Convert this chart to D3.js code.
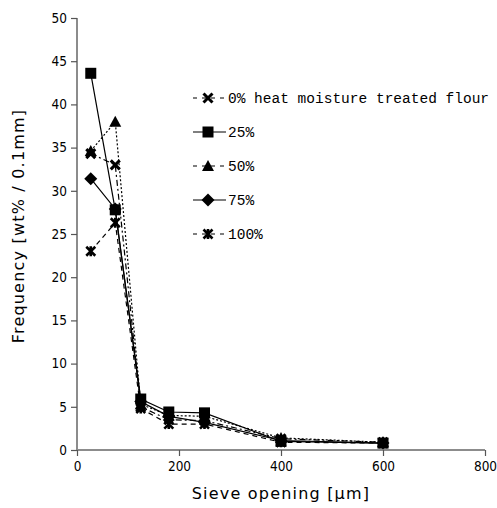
<!DOCTYPE html>
<html>
<head>
<meta charset="utf-8">
<script src="https://cdn.jsdelivr.net/npm/d3@7"></script>
<style>
  body { margin: 0; background: #fff; }
  svg text { fill: #000; }
</style>
</head>
<body>
<div id="chart"></div>
<script>
    /*
    ** Data
    */
    var sieve = [27, 75, 125, 180, 250, 400, 600];
    var seriesNames = ["0% heat moisture treated flour", "25%", "50%", "75%", "100%"];
    var v0   = [34.3, 33.0, 5.0, 3.5, 3.4, 1.3, 0.9];
    var v25  = [43.6, 27.8, 5.9, 4.4, 4.3, 1.0, 0.8];
    var v50  = [34.6, 38.0, 5.3, 4.0, 3.9, 1.4, 0.9];
    var v75  = [31.4, 27.9, 5.6, 3.9, 3.2, 1.1, 0.8];
    var v100 = [23.0, 26.3, 4.8, 3.0, 3.0, 0.9, 0.8];
    var xTicks = [0, 200, 400, 600, 800];
    var yTicks = [0, 5, 10, 15, 20, 25, 30, 35, 40, 45, 50];

    var series = [
        { name: seriesNames[0], values: v0,   dash: "6,3,2,3", marker: "cross" }
      , { name: seriesNames[1], values: v25,  dash: null,      marker: "square" }
      , { name: seriesNames[2], values: v50,  dash: "2,2",     marker: "triangle" }
      , { name: seriesNames[3], values: v75,  dash: null,      marker: "diamond" }
      , { name: seriesNames[4], values: v100, dash: "5,4",     marker: "asterisk" }
    ];

    var width = 497
      , height = 508
      , margin = { left: 77, right: 12, top: 18, bottom: 58 }
      , axisColor = "#8c8c8c"
      , tickFont = "'DejaVu Sans Condensed', 'DejaVu Sans', sans-serif"
      , titleFont = "'DejaVu Sans', sans-serif"
    ;

    var svg = d3.select("#chart").append("svg")
        .attr("width", width)
        .attr("height", height)
    ;

    var x = d3.scaleLinear().domain([0, 800]).range([margin.left, width - margin.right]);
    var y = d3.scaleLinear().domain([0, 50]).range([height - margin.bottom, margin.top]);

    // markers drawn centred on 0,0
    function drawMarker(g, type) {
        if (type === "square") {
            g.append("rect").attr("x", -5.5).attr("y", -5.5).attr("width", 11).attr("height", 11);
        } else if (type === "triangle") {
            g.append("path").attr("d", "M0,-6L6,5L-6,5Z");
        } else if (type === "diamond") {
            g.append("path").attr("d", "M0,-6.5L6.5,0L0,6.5L-6.5,0Z");
        } else if (type === "cross") {
            g.append("path").attr("d", "M-4.5,-4.5L4.5,4.5M4.5,-4.5L-4.5,4.5")
                .attr("stroke", "#000").attr("stroke-width", 3).attr("fill", "none");
        } else if (type === "asterisk") {
            g.append("path").attr("d", "M-4.5,-4.5L4.5,4.5M4.5,-4.5L-4.5,4.5M0,-5L0,5")
                .attr("stroke", "#000").attr("stroke-width", 2.6).attr("fill", "none");
        }
    }

    /*
    ** Axes
    */
    var yAxis = svg.append("g")
        .attr("transform", "translate(" + margin.left + ",0)")
        .call(d3.axisLeft(y).tickValues(yTicks).tickSize(6).tickPadding(4))
    ;
    var xAxis = svg.append("g")
        .attr("transform", "translate(0," + y(0) + ")")
        .call(d3.axisBottom(x).tickValues(xTicks).tickSize(6).tickPadding(5))
    ;
    [xAxis, yAxis].forEach(function(a) {
        a.select(".domain").attr("stroke", axisColor).attr("stroke-width", 2);
        a.selectAll(".tick line").attr("stroke", "#555").attr("stroke-width", 1.2);
        a.selectAll(".tick text")
            .style("font-family", tickFont)
            .style("font-size", "13.5px")
            .attr("fill", "#000")
        ;
    });
    // drop outer tick stubs
    xAxis.select(".domain").attr("d", "M" + x(0) + ",0H" + x(800));
    yAxis.select(".domain").attr("d", "M0," + y(50) + "V" + y(0));

    svg.append("text")
        .attr("transform", "translate(24,226) rotate(-90)")
        .attr("text-anchor", "middle")
        .style("font-family", titleFont)
        .style("font-size", "16px")
        .style("letter-spacing", "1.2px")
        .text("Frequency [wt% / 0.1mm]")
    ;
    svg.append("text")
        .attr("x", x(400))
        .attr("y", 499)
        .attr("text-anchor", "middle")
        .style("font-family", titleFont)
        .style("font-size", "16px")
        .style("letter-spacing", "1.2px")
        .text("Sieve opening [\u03bcm]")
    ;

    /*
    ** Lines and markers
    */
    var line = d3.line()
        .x(function(d, i) { return x(sieve[i]); })
        .y(function(d) { return y(d); })
    ;

    var s = svg.selectAll("g.series").data(series)
        .enter().append("g")
          .attr("class", "series")
    ;
    s.append("path")
        .attr("d", function(d) { return line(d.values); })
        .attr("fill", "none")
        .attr("stroke", "#000")
        .attr("stroke-width", 1.2)
        .attr("stroke-dasharray", function(d) { return d.dash; })
    ;
    s.each(function(d) {
        var self = d3.select(this);
        d.values.forEach(function(v, i) {
            var g = self.append("g")
                .attr("transform", "translate(" + x(sieve[i]) + "," + y(v) + ")")
                .attr("fill", "#000");
            drawMarker(g, d.marker);
        });
    });

    /*
    ** Legend
    */
    var legend = svg.append("g").attr("class", "legend");
    var row = legend.selectAll("g").data(series)
        .enter().append("g")
          .attr("transform", function(d, i) { return "translate(208," + (98 + i * 34) + ")"; })
    ;
    row.append("line")
        .attr("x1", -15).attr("x2", 18)
        .attr("stroke", "#000")
        .attr("stroke-width", 1.2)
        .attr("stroke-dasharray", function(d) { return d.dash ? "4,5" : null; })
    ;
    row.each(function(d) {
        var g = d3.select(this).append("g").attr("fill", "#000");
        drawMarker(g, d.marker);
    });
    row.append("text")
        .attr("x", 20)
        .attr("dy", "0.35em")
        .style("font-family", "'Liberation Mono', 'DejaVu Sans Mono', monospace")
        .style("font-size", "14.5px")
        .text(function(d) { return d.name; })
    ;
</script>
</body>
</html>
